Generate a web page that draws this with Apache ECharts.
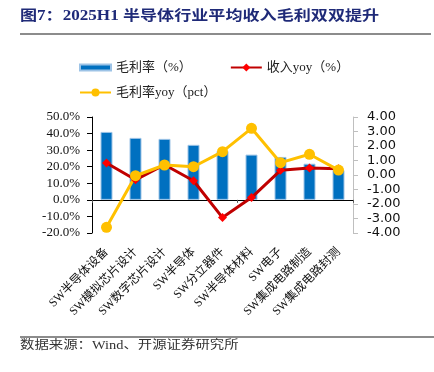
<!DOCTYPE html>
<html><head><meta charset="utf-8">
<script src="https://cdn.jsdelivr.net/npm/echarts@6/dist/echarts.min.js"></script>
<style>html,body{margin:0;padding:0;background:#fff}#c{width:434px;height:372px}</style>
</head><body><div id="c"></div>
<script>
const categories = ['SW半导体设备','SW模拟芯片设计','SW数字芯片设计','SW半导体','SW分立器件','SW半导体材料','SW电子','SW集成电路制造','SW集成电路封测'];
const grossMargin = [41.0, 37.4, 36.8, 33.2, 29.5, 27.3, 25.9, 21.8, 18.0];
const revenueYoy = [22.2, 12.1, 21.2, 11.5, -10.7, 1.4, 17.8, 19.2, 18.8];
const marginYoyPct = [-3.61, -0.05, 0.69, 0.57, 1.61, 3.22, 0.85, 1.43, 0.34];
const leftTicks = {min: -20, max: 50, interval: 10};
const rightTicks = {min: -4, max: 4, interval: 1};

const serif = '"Liberation Serif", "Noto Sans CJK SC", serif';
const chart = echarts.init(document.getElementById('c'));
chart.setOption({
  animation: false,
  backgroundColor: '#fff',
  graphic: [
    {type: 'text', left: 20, top: 9, scaleX: 1.22, style: {text: '图7：2025H1 半导体行业平均收入毛利双双提升', font: 'bold 14px ' + serif, fill: '#1f2a78'}},
    {type: 'rect', shape: {x: 20, y: 33, width: 411, height: 2}, style: {fill: '#8c8c8c'}},
    {type: 'rect', shape: {x: 20, y: 336, width: 414, height: 2}, style: {fill: '#8c8c8c'}},
    {type: 'text', left: 20, top: 340, scaleX: 1.2, style: {text: '数据来源：Wind、开源证券研究所', font: '12px ' + serif, fill: '#333'}}
  ],
  legend: [
    {left: 74, top: 56, itemWidth: 31, itemHeight: 10, itemGap: 38,
     data: [{name: '毛利率（%）', icon: 'path://M0,2H31V8H0Z'}, '收入yoy（%）'],
     textStyle: {fontFamily: serif, fontSize: 13, color: '#222'}},
    {left: 74, top: 81, itemWidth: 31, itemHeight: 10, data: ['毛利率yoy（pct）'],
     textStyle: {fontFamily: serif, fontSize: 13, color: '#222'}}
  ],
  grid: {left: 92, right: 81, top: 117, bottom: 139},
  xAxis: [
    {type: 'category', data: categories, position: 'bottom',
     axisLine: {show: false, onZero: false}, axisTick: {show: false},
     axisLabel: {interval: 0, rotate: 45, margin: 17, fontFamily: serif, fontSize: 12, color: '#111'}},
    {type: 'category', data: categories, position: 'bottom',
     axisLine: {show: true, onZero: true, onZeroAxisIndex: 0, lineStyle: {color: '#000', width: 1}},
     axisTick: {show: true, length: 3, lineStyle: {color: '#555'}}, axisLabel: {show: false}}
  ],
  yAxis: [
    {type: 'value', min: leftTicks.min, max: leftTicks.max, interval: leftTicks.interval,
     axisLine: {show: true, lineStyle: {color: '#000'}},
     axisTick: {show: true, length: 5, lineStyle: {color: '#000'}},
     splitLine: {show: false},
     axisLabel: {margin: 12, formatter: v => v.toFixed(1) + '%', fontFamily: serif, fontSize: 13, color: '#111'}},
    {type: 'value', min: rightTicks.min, max: rightTicks.max, interval: rightTicks.interval, position: 'right',
     axisLine: {show: true, lineStyle: {color: '#bfbfbf'}},
     axisTick: {show: true, length: 5, lineStyle: {color: '#bfbfbf'}},
     splitLine: {show: false},
     axisLabel: {margin: 14, formatter: v => v.toFixed(2), fontFamily: '"DejaVu Sans", sans-serif', fontSize: 13, color: '#111'}}
  ],
  series: [
    {name: '毛利率（%）', type: 'bar', data: grossMargin, xAxisIndex: 0, yAxisIndex: 0, barWidth: 12,
     itemStyle: {color: '#0070c0', borderColor: '#9dc3e6', borderWidth: 1}},
    {name: '收入yoy（%）', type: 'line', data: revenueYoy, xAxisIndex: 0, yAxisIndex: 0,
     symbol: 'diamond', symbolSize: 9, lineStyle: {color: '#c00000', width: 3},
     itemStyle: {color: '#ff0000'}},
    {name: '毛利率yoy（pct）', type: 'line', data: marginYoyPct, xAxisIndex: 0, yAxisIndex: 1,
     symbol: 'circle', symbolSize: 11, lineStyle: {color: '#ffc000', width: 3},
     itemStyle: {color: '#ffc000'}}
  ]
});
</script></body></html>
